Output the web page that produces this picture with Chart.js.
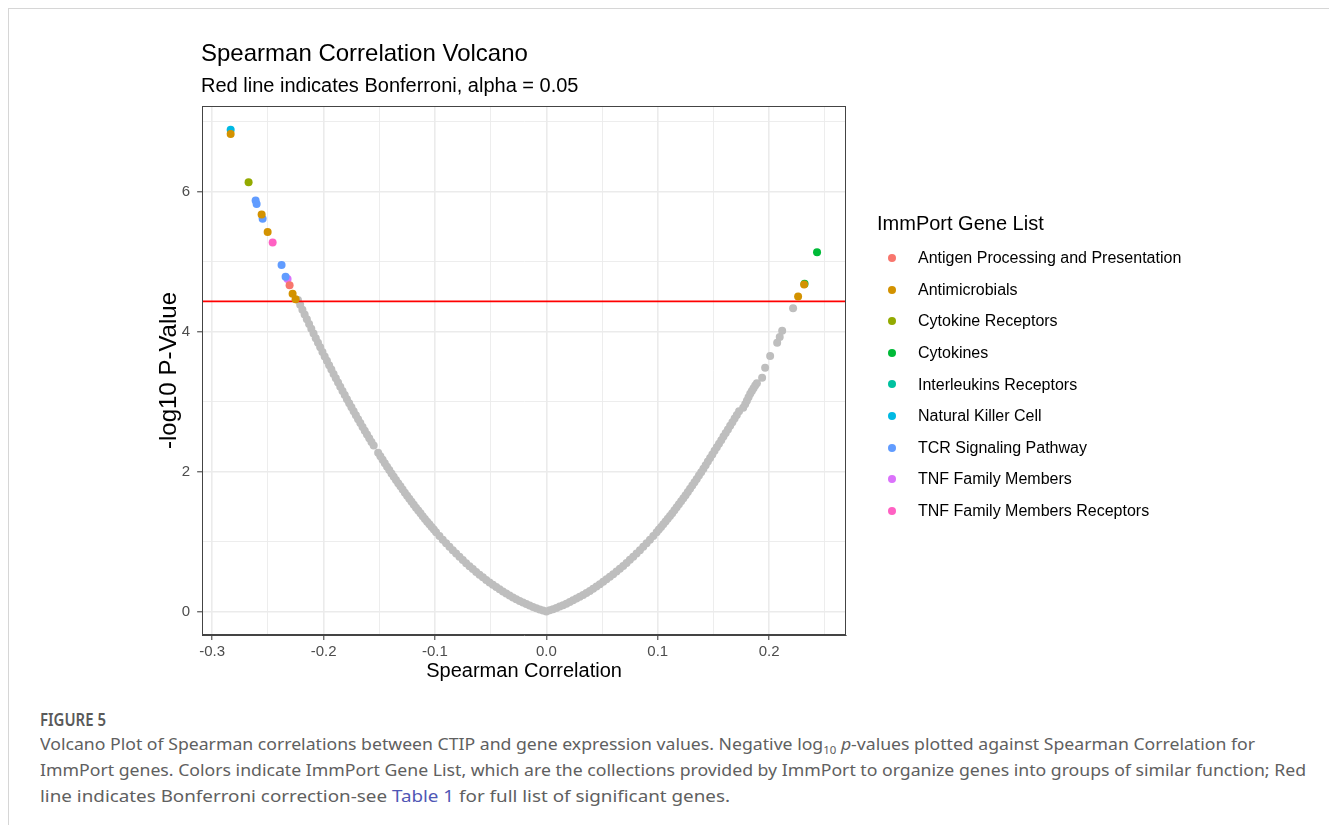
<!DOCTYPE html>
<html>
<head>
<meta charset="utf-8">
<script src="https://cdn.jsdelivr.net/npm/chart.js@4.4.1/dist/chart.umd.min.js"></script>
<style>
html,body{margin:0;padding:0;background:#fff;}
body{width:1329px;height:825px;position:relative;overflow:hidden;font-family:"Liberation Sans",Arial,sans-serif;}
#frame{position:absolute;left:8px;top:8px;right:-2px;bottom:-2px;border-top:1px solid #d6d6d6;border-left:1px solid #d6d6d6;}
#chart{position:absolute;left:0;top:0;}
.t{position:absolute;white-space:nowrap;color:#000;}
#title{left:201px;top:41px;font-size:24px;line-height:24px;}
#subtitle{left:201px;top:75px;font-size:20px;line-height:20px;}
#legTitle{left:877px;top:213px;font-size:20px;line-height:20px;}
.legItem{font-size:16px;line-height:16px;}
.legDot{position:absolute;width:8px;height:8px;border-radius:50%;}
.cap{position:absolute;left:40px;white-space:nowrap;font-family:"Noto Sans",sans-serif;font-size:17px;line-height:26px;color:#606060;transform-origin:0 50%;}
#figlabel{top:707px;font-weight:600;color:#5a5a5a;}
.cap a{color:#4f57b5;text-decoration:none;}
.cap sub{font-size:11px;line-height:0;}
</style>
</head>
<body>
<div id="frame"></div>
<canvas id="chart" width="1329" height="700"></canvas>
<div id="title" class="t">Spearman Correlation Volcano</div>
<div id="subtitle" class="t">Red line indicates Bonferroni, alpha = 0.05</div>
<div id="legend"></div>
<div id="figlabel" class="cap">FIGURE 5</div>
<div id="cap1" class="cap" style="top:731px">Volcano Plot of Spearman correlations between CTIP and gene expression values. Negative log<sub>10</sub> <i>p</i>-values plotted against Spearman Correlation for</div>
<div id="cap2" class="cap" style="top:757px">ImmPort genes. Colors indicate ImmPort Gene List, which are the collections provided by ImmPort to organize genes into groups of similar function; Red</div>
<div id="cap3" class="cap" style="top:783px">line indicates Bonferroni correction-see <a>Table 1</a> for full list of significant genes.</div>
<script>
// ---------- DATA ----------
const categories = [
  "Antigen Processing and Presentation",
  "Antimicrobials",
  "Cytokine Receptors",
  "Cytokines",
  "Interleukins Receptors",
  "Natural Killer Cell",
  "TCR Signaling Pathway",
  "TNF Family Members",
  "TNF Family Members Receptors"
];
const categoryColors = ["#F8766D","#D39200","#93AA00","#00BA38","#00C19F","#00B9E3","#619CFF","#DB72FB","#FF61C3"];

// [Spearman correlation, -log10 p]
const antigenProcessing = [[-0.2305,4.66]];
const antimicrobials = [[-0.2834,6.82],[-0.2556,5.67],[-0.2502,5.42],[-0.2278,4.54],[-0.2251,4.46],[0.2314,4.67],[0.2260,4.50]];
const cytokineReceptors = [[-0.2673,6.13]];
const cytokines = [[0.2430,5.13],[0.2318,4.68]];
const interleukinsReceptors = [];
const naturalKillerCell = [[-0.2834,6.88]];
const tcrSignaling = [[-0.2610,5.87],[-0.2601,5.82],[-0.2547,5.61],[-0.2377,4.95],[-0.2341,4.78]];
const tnfFamilyMembers = [[-0.2323,4.75]];
const tnfFamilyReceptors = [[-0.2457,5.27]];

const greyLeft = [
[0,0],
[-0.003,0.015],[-0.006,0.030],[-0.009,0.048],[-0.012,0.066],[-0.015,0.085],[-0.018,0.106],[-0.021,0.128],[-0.024,0.151],[-0.027,0.176],[-0.030,0.202],
[-0.033,0.228],[-0.036,0.257],[-0.039,0.286],[-0.042,0.317],[-0.045,0.349],[-0.048,0.382],[-0.051,0.416],[-0.054,0.452],[-0.057,0.489],[-0.060,0.527],
[-0.063,0.566],[-0.066,0.606],[-0.069,0.648],[-0.072,0.691],[-0.075,0.735],[-0.078,0.781],[-0.081,0.828],[-0.084,0.875],[-0.087,0.925],[-0.090,0.975],
[-0.093,1.027],[-0.096,1.080],[-0.099,1.134],
[-0.101,1.170],[-0.103,1.208],[-0.105,1.246],[-0.107,1.284],[-0.109,1.323],[-0.111,1.362],[-0.113,1.403],[-0.115,1.443],[-0.117,1.484],[-0.119,1.526],
[-0.121,1.568],[-0.123,1.611],[-0.125,1.654],[-0.127,1.698],[-0.129,1.743],[-0.131,1.788],[-0.133,1.833],[-0.135,1.879],[-0.137,1.926],[-0.139,1.973],
[-0.141,2.021],[-0.143,2.069],[-0.145,2.118],[-0.147,2.167],[-0.149,2.217],[-0.151,2.268],[-0.155,2.370],[-0.157,2.423],[-0.159,2.475],
[-0.161,2.528],[-0.163,2.582],[-0.165,2.636],[-0.167,2.691],[-0.169,2.747],[-0.171,2.803],[-0.173,2.859],[-0.175,2.916],[-0.177,2.974],[-0.179,3.032],
[-0.181,3.091],[-0.183,3.150],[-0.185,3.210],[-0.187,3.270],[-0.189,3.331],[-0.191,3.393],[-0.193,3.455],[-0.195,3.517],[-0.197,3.580],[-0.199,3.644],
[-0.201,3.708],[-0.203,3.773],[-0.205,3.838],[-0.207,3.904],[-0.209,3.971],[-0.211,4.037],[-0.213,4.105],[-0.215,4.173],[-0.217,4.242],[-0.219,4.311],
[-0.221,4.380],[-0.223,4.451]
];
const greyRight = [
[0.003,0.018],[0.006,0.034],[0.009,0.052],[0.012,0.071],[0.015,0.091],[0.018,0.113],[0.021,0.136],[0.024,0.160],[0.027,0.185],[0.030,0.211],
[0.033,0.238],[0.036,0.266],[0.039,0.295],[0.042,0.326],[0.045,0.358],[0.048,0.391],[0.051,0.425],[0.054,0.460],[0.057,0.496],[0.060,0.533],
[0.063,0.571],[0.066,0.611],[0.069,0.652],[0.072,0.694],[0.075,0.738],[0.078,0.783],[0.081,0.829],[0.084,0.876],[0.087,0.925],[0.090,0.975],
[0.093,1.027],[0.096,1.080],[0.099,1.134],
[0.101,1.170],[0.103,1.208],[0.105,1.246],[0.107,1.285],[0.109,1.324],[0.111,1.364],[0.113,1.405],[0.115,1.446],[0.117,1.488],[0.119,1.531],
[0.121,1.574],[0.123,1.618],[0.125,1.662],[0.127,1.707],[0.129,1.753],[0.131,1.799],[0.133,1.846],[0.135,1.894],[0.137,1.942],[0.139,1.991],
[0.141,2.041],[0.143,2.091],[0.145,2.142],[0.147,2.193],[0.149,2.244],[0.151,2.295],[0.153,2.346],[0.155,2.397],[0.157,2.448],[0.159,2.499],
[0.161,2.550],[0.163,2.601],[0.165,2.652],[0.167,2.704],[0.169,2.756],[0.171,2.808],[0.173,2.860],
[0.1767,2.91],[0.1785,2.96],[0.1800,3.01],[0.1815,3.06],[0.1830,3.11],[0.1845,3.15],[0.1860,3.19],[0.1875,3.23],[0.1890,3.26],
[0.1937,3.34],[0.1964,3.48],[0.2009,3.65],[0.2072,3.84],[0.2095,3.92],[0.2117,4.01],[0.2215,4.33]
];

const bonferroniY = 4.43;
const xMin = -0.309, xMax = 0.269;
const yMin = -0.335, yMax = 7.22;
const xTickValues = [-0.3,-0.25,-0.2,-0.15,-0.1,-0.05,0,0.05,0.1,0.15,0.2,0.25];
const xMajorTicks = [-0.3,-0.2,-0.1,0,0.1,0.2];
const xTickLabels = ["-0.3","-0.2","-0.1","0.0","0.1","0.2"];
const yTickValues = [0,1,2,3,4,5,6,7];
const yMajorTicks = [0,2,4,6];
const yTickLabels = ["0","2","4","6"];

// ---------- CHART ----------
const seriesList = [antigenProcessing, antimicrobials, cytokineReceptors, cytokines, interleukinsReceptors,
  naturalKillerCell, tcrSignaling, tnfFamilyMembers, tnfFamilyReceptors];
const toXY = arr => arr.map(p => ({x: p[0], y: p[1]}));
const majorIndex = (list, v) => list.findIndex(m => Math.abs(m - v) < 1e-9);

Chart.defaults.font.family = '"Liberation Sans", Arial, sans-serif';

const datasets = categories.map((name, i) => ({
  label: name,
  data: toXY(seriesList[i]),
  backgroundColor: categoryColors[i],
  borderWidth: 0,
  pointRadius: 4,
  pointHoverRadius: 4
}));
datasets.push({
  label: "Bonferroni",
  data: [{x: xMin, y: bonferroniY}, {x: xMax, y: bonferroniY}],
  showLine: true,
  borderColor: "#FF0000",
  borderWidth: 1.6,
  pointRadius: 0,
  pointHoverRadius: 0
});
datasets.push({
  label: "Not significant",
  data: toXY(greyLeft.concat(greyRight)),
  backgroundColor: "#BEBEBE",
  borderWidth: 0,
  pointRadius: 4,
  pointHoverRadius: 4
});

const panelBorder = {
  id: "panelBorder",
  afterDatasetsDraw(chart) {
    const {ctx, chartArea: a} = chart;
    ctx.save();
    ctx.strokeStyle = "#444";
    ctx.lineWidth = 1;
    ctx.strokeRect(Math.round(a.left) + 0.5, Math.round(a.top) + 0.5, Math.round(a.width) - 1, Math.round(a.height) - 1);
    ctx.restore();
  }
};

function gridOpts(majors) {
  return {
    color: "#EBEBEB",
    lineWidth: c => (c.tick && majorIndex(majors, c.tick.value) >= 0) ? 1.6 : 0.9,
    tickLength: 5,
    tickColor: c => (c.tick && majorIndex(majors, c.tick.value) >= 0) ? "#333" : "rgba(0,0,0,0)",
    tickWidth: 1
  };
}

new Chart(document.getElementById("chart"), {
  type: "scatter",
  data: {datasets},
  options: {
    responsive: false,
    animation: false,
    events: [],
    layout: {padding: {left: 155, right: 483, top: 106, bottom: 17}},
    plugins: {legend: {display: false}, tooltip: {enabled: false}},
    scales: {
      x: {
        type: "linear", min: xMin, max: xMax,
        afterBuildTicks: ax => { ax.ticks = xTickValues.map(v => ({value: v})); },
        ticks: {
          autoSkip: false, maxRotation: 0, padding: 3,
          color: "#4D4D4D", font: {size: 15},
          callback: v => { const k = majorIndex(xMajorTicks, v); return k >= 0 ? xTickLabels[k] : ""; }
        },
        grid: gridOpts(xMajorTicks),
        border: {display: true, color: "#444", width: 1},
        title: {display: true, text: "Spearman Correlation", color: "#000", font: {size: 20}, padding: {top: -5, bottom: 0}}
      },
      y: {
        type: "linear", min: yMin, max: yMax,
        afterBuildTicks: ax => { ax.ticks = yTickValues.map(v => ({value: v})); },
        ticks: {
          autoSkip: false, padding: 7,
          color: "#4D4D4D", font: {size: 15},
          callback: v => { const k = majorIndex(yMajorTicks, v); return k >= 0 ? yTickLabels[k] : ""; }
        },
        grid: gridOpts(yMajorTicks),
        border: {display: true, color: "#444", width: 1},
        title: {display: true, text: "-log10 P-Value", color: "#000", font: {size: 24}, padding: {top: 0, bottom: -9}}
      }
    }
  },
  plugins: [panelBorder]
});

// ---------- LEGEND (HTML) ----------
const legend = document.getElementById("legend");
const lt = document.createElement("div");
lt.id = "legTitle"; lt.className = "t"; lt.textContent = "ImmPort Gene List";
legend.appendChild(lt);
categories.forEach((name, i) => {
  const cy = 258 + i * 31.6;
  const dot = document.createElement("div");
  dot.className = "legDot";
  dot.style.left = "888px"; dot.style.top = (cy - 4) + "px";
  dot.style.background = categoryColors[i];
  legend.appendChild(dot);
  const tx = document.createElement("div");
  tx.className = "t legItem";
  tx.style.left = "918px"; tx.style.top = (cy - 7.8) + "px";
  tx.textContent = name;
  legend.appendChild(tx);
});

// fit each caption line to the width it has in the reference
const capTargets = {figlabel: 66, cap1: 1215, cap2: 1266, cap3: 690};
function fitCaps() {
  Object.keys(capTargets).forEach(id => {
    const el = document.getElementById(id);
    el.style.transform = "none";
    const w = el.getBoundingClientRect().width;
    if (w > 0) el.style.transform = "scaleX(" + (capTargets[id] / w) + ")";
  });
}
fitCaps();
if (document.fonts && document.fonts.ready) document.fonts.ready.then(fitCaps);
</script>
</body>
</html>
